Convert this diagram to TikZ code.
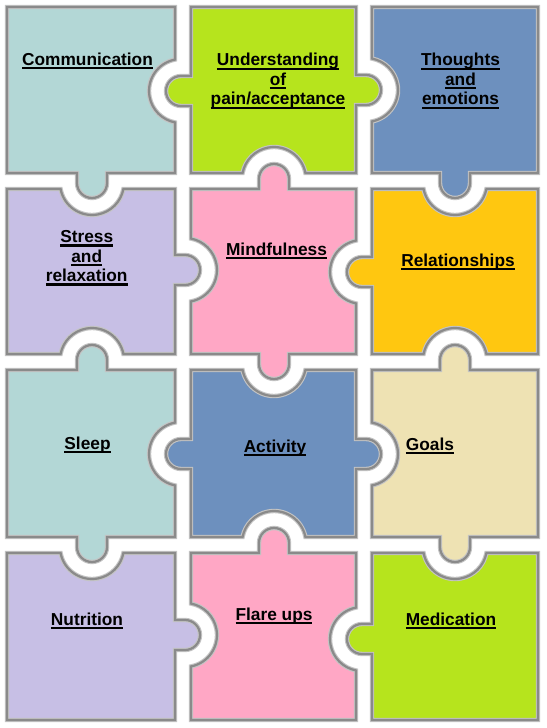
\documentclass[tikz,border=0pt]{standalone}
\usepackage{fontspec}
\setmainfont{Liberation Sans}
\definecolor{cteal}{HTML}{B3D7D6}
\definecolor{cgreen}{HTML}{B6E41D}
\definecolor{cblue}{HTML}{6D90BE}
\definecolor{cpurple}{HTML}{C7BFE5}
\definecolor{cpink}{HTML}{FFA7C5}
\definecolor{cyellow}{HTML}{FFC710}
\definecolor{cbeige}{HTML}{EEE2B3}
\definecolor{chalo}{HTML}{C4C4C4}
\definecolor{ccore}{HTML}{8A8A8A}
\newcommand\myul[1]{\leavevmode\setbox0\hbox{#1}\rlap{\rule[-4bp]{\wd0}{2.3bp}}\box0}
% tab geometry
\def\tw{15}\def\td{10}\def\tr{32}\def\tdx{31.43}\def\ta{10.81}
\newcommand\setrect[4]{\def\pL{#1}\def\pR{#2}\def\pT{#3}\def\pB{#4}}
% top edge (moving right)
\def\Ttab#1{-- ({#1-\tw},\pT) -- ({#1-\tw},{\pT-\td}) arc[start angle=180,end angle=360,radius=\tw] -- ({#1+\tw},\pT)}
\def\Tblk#1{-- ({#1-\tdx},\pT) arc[start angle={180-\ta},end angle=\ta,radius=\tr]}
% right edge (moving down)
\def\Rtab#1{-- (\pR,{#1-\tw}) -- ({\pR+\td},{#1-\tw}) arc[start angle=270,end angle=450,radius=\tw] -- (\pR,{#1+\tw})}
\def\Rblk#1{-- (\pR,{#1-\tdx}) arc[start angle={270-\ta},end angle={90+\ta},radius=\tr]}
% bottom edge (moving left)
\def\Btab#1{-- ({#1+\tw},\pB) -- ({#1+\tw},{\pB+\td}) arc[start angle=0,end angle=180,radius=\tw] -- ({#1-\tw},\pB)}
\def\Bblk#1{-- ({#1+\tdx},\pB) arc[start angle={360-\ta},end angle={180+\ta},radius=\tr]}
% left edge (moving up)
\def\Ltab#1{-- (\pL,{#1+\tw}) -- ({\pL-\td},{#1+\tw}) arc[start angle=90,end angle=270,radius=\tw] -- (\pL,{#1-\tw})}
\def\Lblk#1{-- (\pL,{#1+\tdx}) arc[start angle={90-\ta},end angle={-90+\ta},radius=\tr]}
\tikzset{
  halo/.style={draw=chalo,line width=4.4bp},
  core/.style={draw=ccore,line width=2.2bp},
  lbl/.style={font=\fontsize{17.3bp}{20bp}\selectfont\bfseries,inner sep=0pt,anchor=base,text=black}
}
\newcommand\piece[2]{\fill[#1] #2; \draw[halo] #2; \draw[core] #2;}
\begin{document}
\begin{tikzpicture}[x=1bp,y=-1bp]
\useasboundingbox (0,0) rectangle (547,728);
\fill[white] (0,0) rectangle (547,728);
% row 1
\setrect{7}{175}{7}{173}
\piece{cteal}{(\pL,\pT) -- (\pR,\pT) \Rblk{91} -- (\pR,\pB) \Btab{92} -- (\pL,\pB) -- cycle}
\setrect{191}{356}{7}{173}
\piece{cgreen}{(\pL,\pT) -- (\pR,\pT) \Rtab{90} -- (\pR,\pB) \Bblk{274} -- (\pL,\pB) \Ltab{91} -- cycle}
\setrect{372}{538}{7}{173}
\piece{cblue}{(\pL,\pT) -- (\pR,\pT) -- (\pR,\pB) \Btab{455} -- (\pL,\pB) \Lblk{90} -- cycle}
% row 2
\setrect{7}{175}{189}{354}
\piece{cpurple}{(\pL,\pT) \Tblk{92} -- (\pR,\pT) \Rtab{270} -- (\pR,\pB) \Bblk{92} -- (\pL,\pB) -- cycle}
\setrect{191}{356}{189}{354}
\piece{cpink}{(\pL,\pT) \Ttab{274} -- (\pR,\pT) \Rblk{272} -- (\pR,\pB) \Btab{274} -- (\pL,\pB) \Lblk{270} -- cycle}
\setrect{372}{538}{189}{354}
\piece{cyellow}{(\pL,\pT) \Tblk{455} -- (\pR,\pT) -- (\pR,\pB) \Bblk{455} -- (\pL,\pB) \Ltab{272} -- cycle}
% row 3
\setrect{7}{175}{370}{537}
\piece{cteal}{(\pL,\pT) \Ttab{92} -- (\pR,\pT) \Rblk{454} -- (\pR,\pB) \Btab{92} -- (\pL,\pB) -- cycle}
\setrect{191}{356}{370}{537}
\piece{cblue}{(\pL,\pT) \Tblk{274} -- (\pR,\pT) \Rtab{454} -- (\pR,\pB) \Bblk{274} -- (\pL,\pB) \Ltab{454} -- cycle}
\setrect{372}{538}{370}{537}
\piece{cbeige}{(\pL,\pT) \Ttab{455} -- (\pR,\pT) -- (\pR,\pB) \Btab{455} -- (\pL,\pB) \Lblk{454} -- cycle}
% row 4
\setrect{7}{175}{553}{720}
\piece{cpurple}{(\pL,\pT) \Tblk{92} -- (\pR,\pT) \Rtab{635} -- (\pR,\pB) -- (\pL,\pB) -- cycle}
\setrect{191}{356}{553}{720}
\piece{cpink}{(\pL,\pT) \Ttab{274} -- (\pR,\pT) \Rblk{639} -- (\pR,\pB) -- (\pL,\pB) \Lblk{635} -- cycle}
\setrect{372}{538}{553}{720}
\piece{cgreen}{(\pL,\pT) \Tblk{455} -- (\pR,\pT) -- (\pR,\pB) -- (\pL,\pB) \Ltab{639} -- cycle}
% labels
\node[lbl] (comm) at (87.5,65.5) {\myul{Communication}};
\node[lbl] (und1) at (278,66) {\myul{Understanding}};
\node[lbl] (und2) at (278,85.5) {\myul{of}};
\node[lbl] (und3) at (278,105) {\myul{pain/acceptance}};
\node[lbl] (tho1) at (460.5,66) {\myul{Thoughts}};
\node[lbl] (tho2) at (460.5,85.5) {\myul{and}};
\node[lbl] (tho3) at (460.5,105) {\myul{emotions}};
\node[lbl] (str1) at (86.7,242.5) {\myul{Stress}};
\node[lbl] (str2) at (86.7,262) {\myul{and}};
\node[lbl] (str3) at (86.7,281.5) {\myul{relaxation}};
\node[lbl] (mind) at (276.5,255) {\myul{Mindfulness}};
\node[lbl] (rel) at (458,266) {\myul{Relationships}};
\node[lbl] (sleep) at (87.5,449) {\myul{Sleep}};
\node[lbl] (act) at (275,452) {\myul{Activity}};
\node[lbl] (goals) at (430,450) {\myul{Goals}};
\node[lbl] (nutr) at (87,625) {\myul{Nutrition}};
\node[lbl] (flare) at (274,620) {\myul{Flare ups}};
\node[lbl] (med) at (451,625) {\myul{Medication}};
\end{tikzpicture}
\end{document}
